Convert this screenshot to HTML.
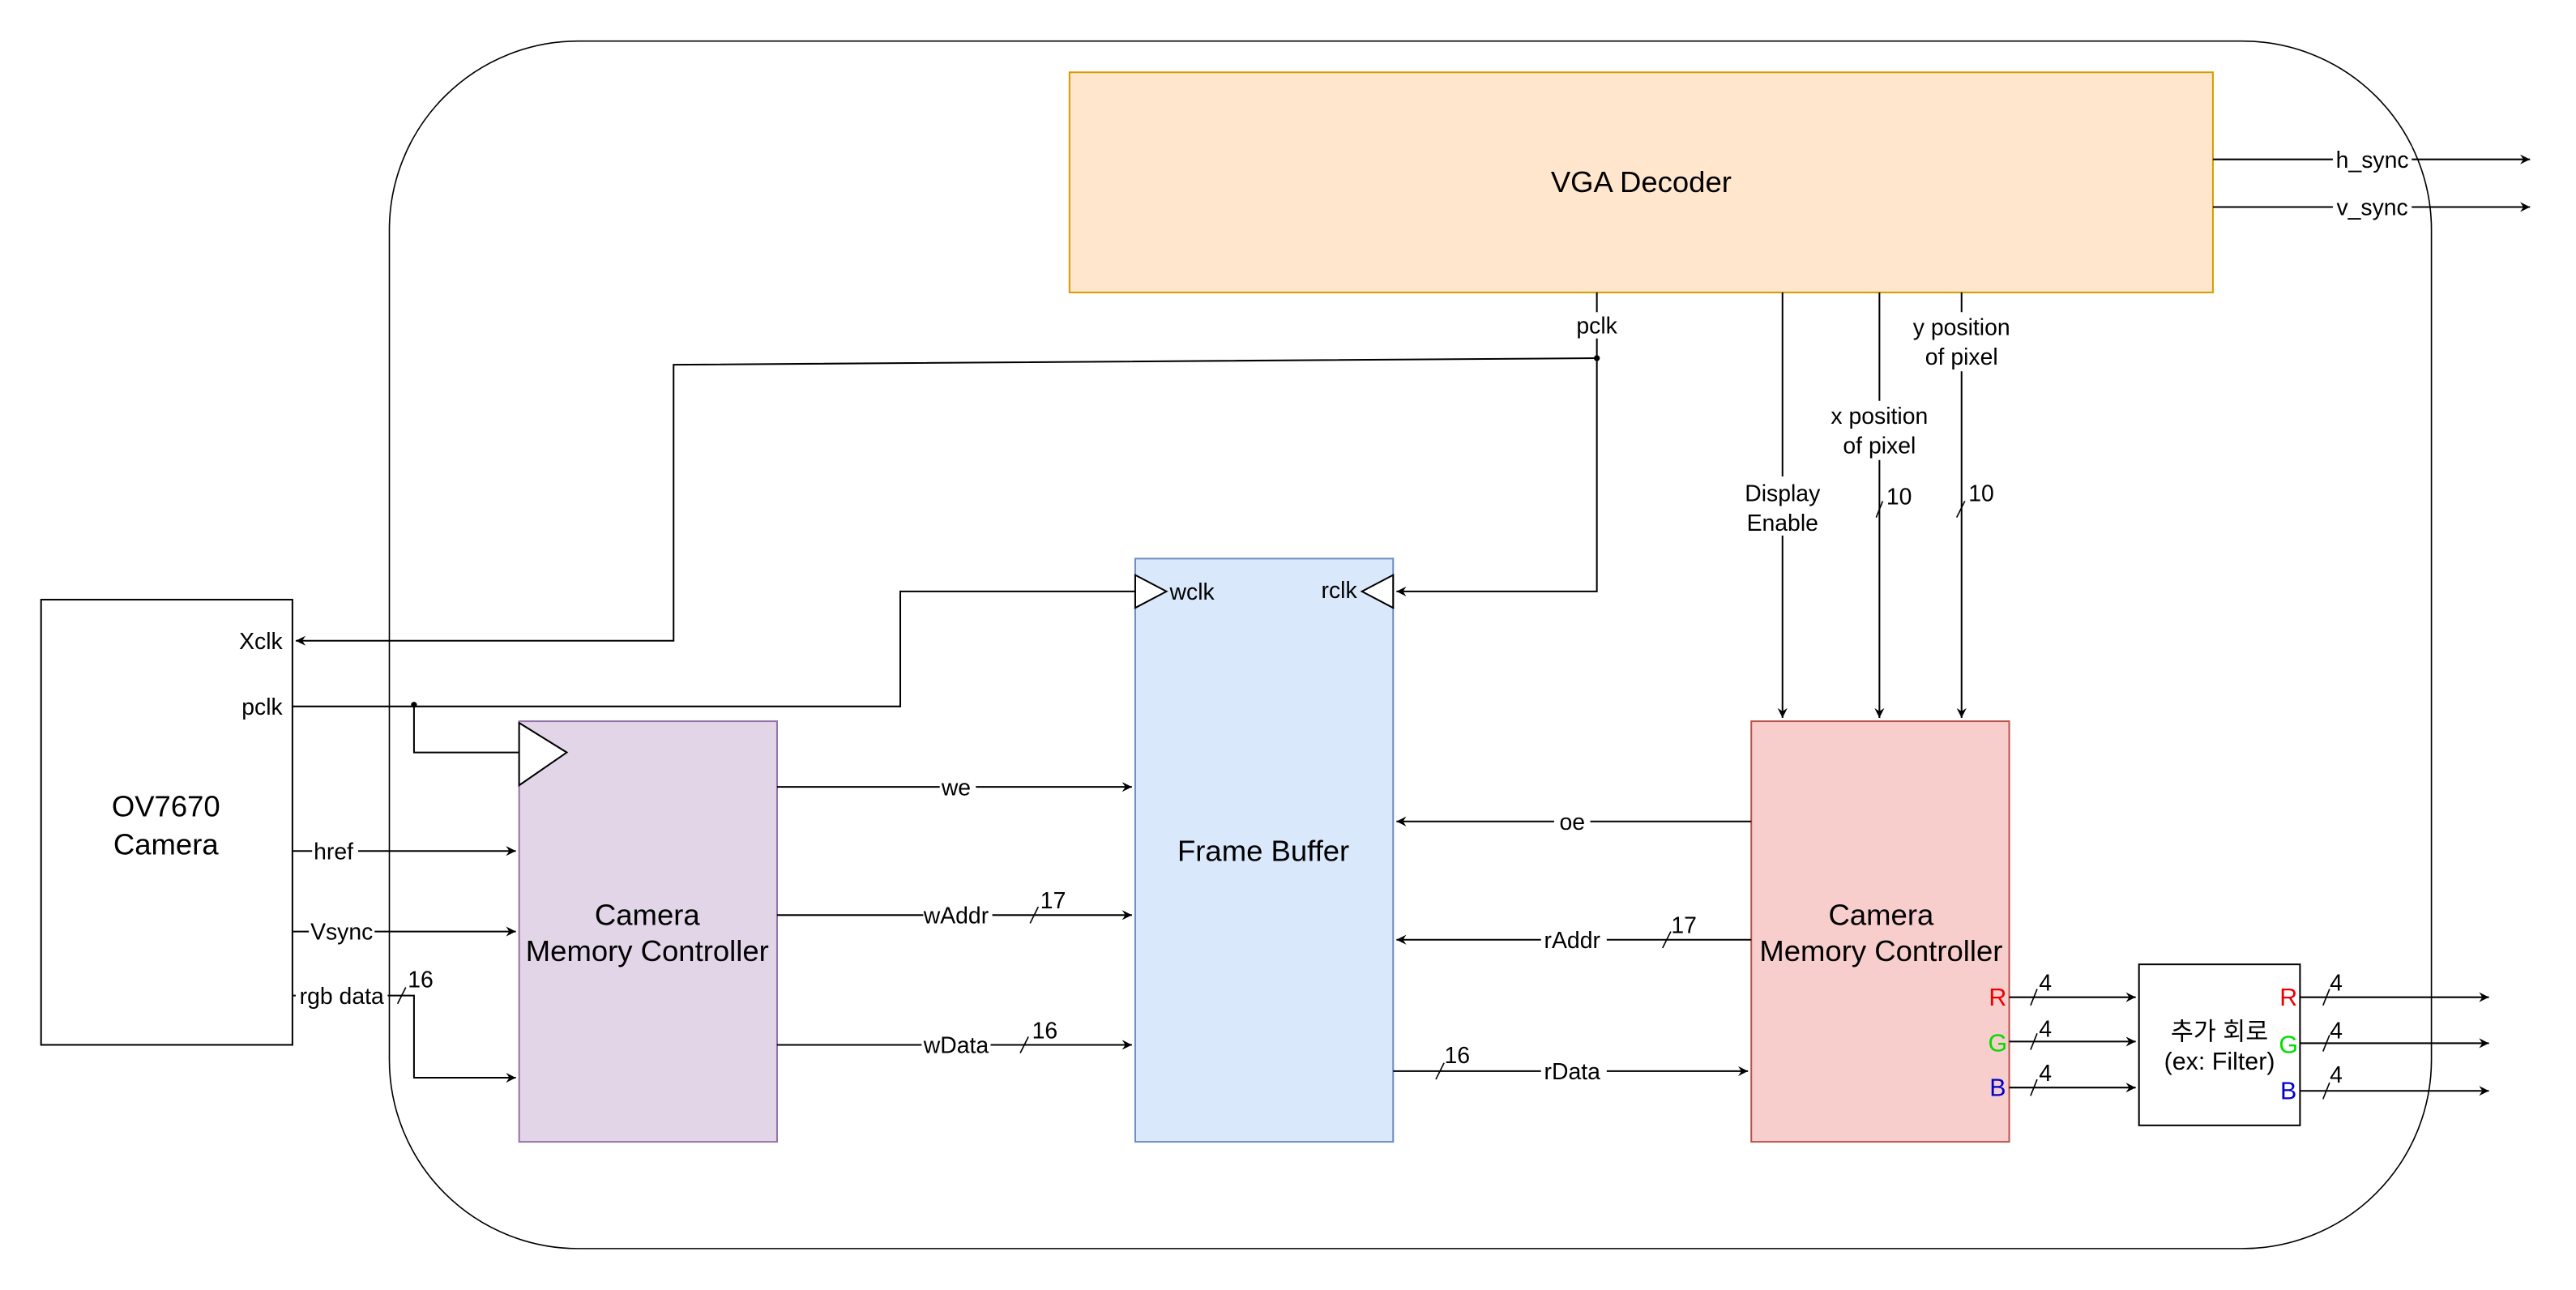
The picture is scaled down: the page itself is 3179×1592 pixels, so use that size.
<!DOCTYPE html>
<html><head><meta charset="utf-8"><style>
html,body{margin:0;padding:0;background:#fff;}
svg{display:block;}
text{font-family:"Liberation Sans","Noto Sans CJK KR",sans-serif;fill:#000;}
.l{font-size:14px;}
.b{font-size:18px;}
</style></head><body>
<svg width="3179" height="1592" viewBox="0 0 1568 785.2" xmlns="http://www.w3.org/2000/svg">
<defs>
<marker id="a" markerWidth="8" markerHeight="8" refX="6" refY="4" orient="auto" markerUnits="userSpaceOnUse">
<path d="M0,1 L6,4 L0,7 L2,4 Z" fill="#000"/></marker>
</defs>
<rect x="237" y="25" width="1243" height="735" rx="115" ry="115" fill="none" stroke="#000" stroke-width="0.8"/>
<rect x="25" y="365" width="153" height="271" fill="#fff" stroke="#000"/>
<rect x="651" y="44" width="696" height="134" fill="#ffe6cc" stroke="#d79b00"/>
<rect x="691" y="340" width="157" height="355" fill="#dae8fc" stroke="#6c8ebf"/>
<rect x="316" y="439" width="157" height="256" fill="#e1d5e7" stroke="#9673a6"/>
<rect x="1066" y="439" width="157" height="256" fill="#f8cecc" stroke="#b85450"/>
<rect x="1302" y="587" width="98" height="98" fill="#fff" stroke="#000"/>
<g fill="none" stroke="#000" stroke-width="1">
<path d="M1347,97 H1540" marker-end="url(#a)"/>
<path d="M1347,126 H1540" marker-end="url(#a)"/>
<path d="M972,178 V360 H850" marker-end="url(#a)"/>
<path d="M972,218 L410,222 V390 H180" marker-end="url(#a)"/>
<path d="M178,430 H548 V360 H691"/>
<path d="M252,429 V458 H316"/>
<path d="M178,518 H314" marker-end="url(#a)"/>
<path d="M178,567 H314" marker-end="url(#a)"/>
<path d="M178,606 H252 V656 H314" marker-end="url(#a)"/>
<path d="M473,479 H689" marker-end="url(#a)"/>
<path d="M473,557 H689" marker-end="url(#a)"/>
<path d="M473,636 H689" marker-end="url(#a)"/>
<path d="M1066,500 H850" marker-end="url(#a)"/>
<path d="M1066,572 H850" marker-end="url(#a)"/>
<path d="M848,652 H1064" marker-end="url(#a)"/>
<path d="M1085,178 V437" marker-end="url(#a)"/>
<path d="M1144,178 V437" marker-end="url(#a)"/>
<path d="M1194,178 V437" marker-end="url(#a)"/>
<path d="M1223,607 H1300" marker-end="url(#a)"/>
<path d="M1223,634 H1300" marker-end="url(#a)"/>
<path d="M1223,662 H1300" marker-end="url(#a)"/>
<path d="M1400,607 H1515" marker-end="url(#a)"/>
<path d="M1400,635 H1515" marker-end="url(#a)"/>
<path d="M1400,664 H1515" marker-end="url(#a)"/>
<path d="M242,611 L247,601 M627,562 L632,552 M621,641 L626,631 M1012,577 L1017,567 M874,657 L879,647 M1142,315 L1146,305 M1191,315 L1196,305 M1236,612 L1240,602 M1236,639 L1240,629 M1236,667 L1240,657 M1414,612 L1418,602 M1414,640 L1418,630 M1414,669 L1418,659" stroke-width="0.8"/>
</g>
<path d="M316,440 L345,458 L316,478 Z" fill="#fff" stroke="#000"/>
<path d="M691,350 L710,360 L691,370 Z" fill="#fff" stroke="#000"/>
<path d="M848,350 L829,360 L848,370 Z" fill="#fff" stroke="#000"/>
<circle cx="972" cy="218" r="1.8" fill="#000"/>
<circle cx="252" cy="429" r="1.8" fill="#000"/>
<g fill="#fff">
<rect x="1420" y="89" width="48" height="16"/><rect x="1420" y="118" width="48" height="16"/>
<rect x="956" y="190" width="32" height="16"/>
<rect x="1060" y="290" width="52" height="36"/>
<rect x="1110" y="244" width="68" height="36"/>
<rect x="1160" y="190" width="68" height="36"/>
<rect x="190" y="510" width="28" height="16"/><rect x="188" y="559" width="40" height="16"/><rect x="180" y="598" width="56" height="16"/>
<rect x="572" y="471" width="22" height="16"/><rect x="562" y="549" width="42" height="16"/><rect x="561" y="628" width="42" height="16"/>
<rect x="946" y="492" width="22" height="16"/><rect x="938" y="564" width="40" height="16"/><rect x="938" y="644" width="40" height="16"/>
</g>
<g class="l" text-anchor="middle">
<text x="1444" y="102">h_sync</text>
<text x="1444" y="131">v_sync</text>
<text x="972" y="203">pclk</text>
<text x="1085" y="305">Display</text><text x="1085" y="323">Enable</text>
<text x="1144" y="258">x position</text><text x="1144" y="276">of pixel</text>
<text x="1194" y="204">y position</text><text x="1194" y="222">of pixel</text>
<text x="1156" y="307">10</text><text x="1206" y="305">10</text>
<text x="203" y="523">href</text><text x="208" y="572">Vsync</text><text x="208" y="611">rgb data</text>
<text x="256" y="601">16</text>
<text x="582" y="484">we</text><text x="582" y="562">wAddr</text><text x="582" y="641">wData</text>
<text x="641" y="553">17</text><text x="636" y="632">16</text>
<text x="957" y="505">oe</text><text x="957" y="577">rAddr</text><text x="957" y="657">rData</text>
<text x="1025" y="568">17</text><text x="887" y="647">16</text>
<text x="1245" y="603">4</text><text x="1245" y="631">4</text><text x="1245" y="658">4</text>
<text x="1422" y="603">4</text><text x="1422" y="632">4</text><text x="1422" y="659">4</text>
</g>
<g class="l" text-anchor="end">
<text x="172" y="395">Xclk</text><text x="172" y="435">pclk</text>
<text x="712" y="365" text-anchor="start">wclk</text>
<text x="826" y="364">rclk</text>
</g>
<g class="l" text-anchor="middle" style="font-size:15px">
<text x="1216" y="612" style="fill:#e00">R</text>
<text x="1216" y="640" style="fill:#0d0">G</text>
<text x="1216" y="667" style="fill:#00c">B</text>
<text x="1393" y="612" style="fill:#e00">R</text>
<text x="1393" y="641" style="fill:#0d0">G</text>
<text x="1393" y="669" style="fill:#00c">B</text>
<text x="1351" y="633">추가 회로</text><text x="1351" y="651">(ex: Filter)</text>
</g>
<g class="b" text-anchor="middle">
<text x="999" y="117">VGA Decoder</text>
<text x="769" y="524">Frame Buffer</text>
<text x="394" y="563">Camera</text><text x="394" y="585">Memory Controller</text>
<text x="1145" y="563">Camera</text><text x="1145" y="585">Memory Controller</text>
<text x="101" y="497">OV7670</text><text x="101" y="520">Camera</text>
</g>
</svg>
</body></html>
